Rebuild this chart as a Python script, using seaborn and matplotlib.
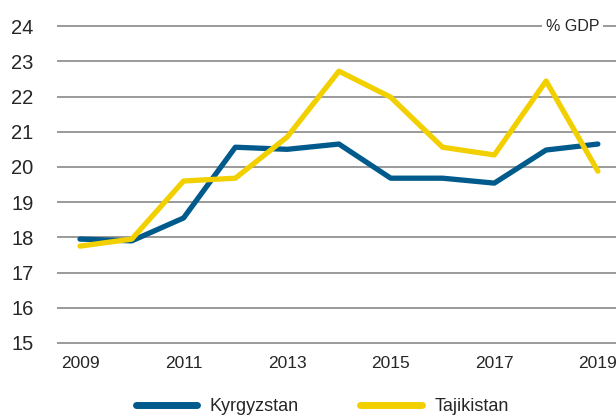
import pandas as pd
import seaborn as sns
import matplotlib.pyplot as plt

# Data (% of GDP)
years = list(range(2009, 2020))
kyrgyzstan = [17.95, 17.9, 18.55, 20.56, 20.5, 20.65, 19.68, 19.68, 19.54, 20.48, 20.65]
tajikistan = [17.75, 17.95, 19.6, 19.68, 20.85, 22.72, 21.98, 20.56, 20.34, 22.44, 19.88]
countries = ["Kyrgyzstan", "Tajikistan"]
colors = ["#005A8B", "#F2D000"]

df = pd.DataFrame({"year": years, "Kyrgyzstan": kyrgyzstan, "Tajikistan": tajikistan})
df = df.melt(id_vars="year", var_name="country", value_name="value")

sns.set_style("white")
plt.rcParams['font.family'] = ['Liberation Sans', 'DejaVu Sans']

fig = plt.figure(figsize=(6.16, 4.17), dpi=100)
ax = fig.add_axes([57 / 616, (417 - 344) / 417, 559 / 616, (344 - 24) / 417])

sns.lineplot(data=df, x="year", y="value", hue="country", hue_order=countries,
             palette=colors, linewidth=3.8, ax=ax, legend=False,
             solid_capstyle="round", zorder=3)

ax.set_xlim(2008.556, 2019.35)
ax.set_ylim(14.97, 24.06)
ax.set_yticks(range(15, 25))
ax.set_xticks(range(2009, 2020, 2))
ax.grid(axis="y", color="#9a9a9a", linewidth=1.4)
ax.grid(axis="x", visible=False)
for s in ax.spines.values():
    s.set_visible(False)
ax.tick_params(axis="y", labelsize=14.5, pad=17, length=0)
ax.tick_params(axis="x", labelsize=12.5, pad=9, length=0)
ax.set_xlabel("")
ax.set_ylabel("")

ax.text(2019.03, 24, "% GDP", ha="right", va="center", fontsize=11.5,
        bbox=dict(facecolor="white", edgecolor="none", pad=2.5), zorder=4)

handles = [plt.Line2D([], [], color=c, linewidth=5, solid_capstyle="round") for c in colors]
fig.legend(handles, countries, loc="lower center", bbox_to_anchor=(0.523, -0.035), ncol=2,
           frameon=False, fontsize=13, handlelength=3.4, handletextpad=0.7,
           columnspacing=3.4)

fig.savefig("out.png", dpi=100)
